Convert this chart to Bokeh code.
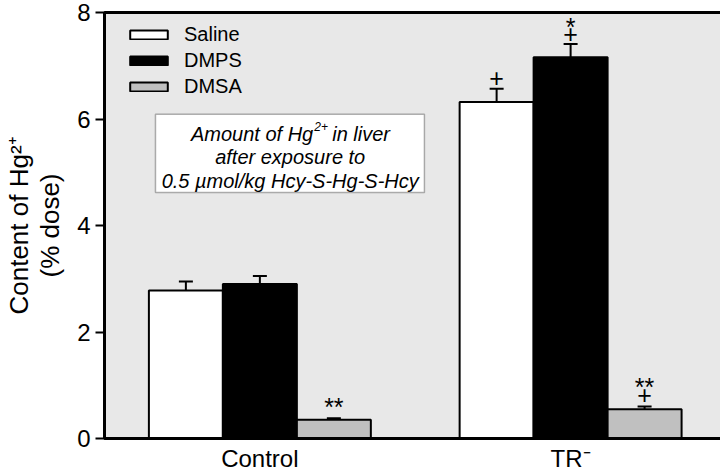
from bokeh.plotting import figure
from bokeh.models import (ColumnDataSource, Whisker, TeeHead, Legend, LegendItem,
                          BoxAnnotation, Label, FixedTicker)
from bokeh.core.properties import value
from bokeh.embed import file_html
from bokeh.resources import INLINE

# ---- data ----
groups = ["Control", "TR\u207b"]
series = ["Saline", "DMPS", "DMSA"]
saline = [2.78, 6.32]
dmps = [2.90, 7.16]
dmsa = [0.35, 0.55]
saline_err = [0.17, 0.25]
dmps_err = [0.15, 0.25]
dmsa_err = [0.03, 0.05]
# significance marks: group index, series index, text, y
mark_group = [1, 1, 1, 0, 1, 1]
mark_series = [0, 1, 1, 2, 2, 2]
mark_text = ["+", "+", "*", "**", "+", "**"]
mark_y = [6.77, 7.60, 7.72, 0.60, 0.81, 0.97]

FONT = "Liberation Sans"
colors = ["#ffffff", "#000000", "#c0c0c0"]
group_centers = [2.1, 6.3]
offsets = [-1.0, 0.0, 1.0]
bar_w = 1.0
FRAME_H = 426

p = figure(frame_width=620, frame_height=FRAME_H, output_backend="svg", toolbar_location=None,
           x_range=(0, 8.38), y_range=(0, 8),
           min_border_left=97, min_border_right=3, min_border_top=12, min_border_bottom=36)
p.background_fill_color = "#e8e8e8"
p.border_fill_color = "white"
p.outline_line_color = "black"
p.outline_line_width = 3
p.xgrid.visible = False
p.ygrid.visible = False

vals = [saline, dmps, dmsa]
errs = [saline_err, dmps_err, dmsa_err]
renderers = []
for si, name in enumerate(series):
    xs = [c + offsets[si] for c in group_centers]
    src = ColumnDataSource(dict(x=xs, top=vals[si],
                                upper=[v + e for v, e in zip(vals[si], errs[si])]))
    r = p.vbar(x="x", top="top", width=bar_w, bottom=0, source=src,
               fill_color=colors[si], line_color="black", line_width=2)
    renderers.append(r)
    w = Whisker(source=src, base="x", lower="top", upper="upper",
                line_color="black", line_width=2,
                upper_head=TeeHead(size=14, line_color="black", line_width=2),
                lower_head=None)
    p.add_layout(w)

# significance marks
mx = [group_centers[g] + offsets[s] for g, s in zip(mark_group, mark_series)]
msrc = ColumnDataSource(dict(x=mx, y=mark_y, text=mark_text))
p.text(x="x", y="y", text="text", source=msrc, text_font=value(FONT),
       text_font_size="25px", text_align="center", text_baseline="middle",
       text_color="black")

# axes
p.yaxis.ticker = FixedTicker(ticks=[0, 2, 4, 6, 8])
p.yaxis.minor_tick_line_color = None
p.yaxis.major_tick_out = 9
p.yaxis.major_tick_in = 0
p.yaxis.major_tick_line_width = 2
p.yaxis.axis_line_width = 3
p.yaxis.major_label_text_font = FONT
p.yaxis.major_label_text_font_size = "24px"
p.yaxis.major_label_text_color = "black"
p.yaxis.major_label_standoff = 5
p.yaxis.axis_label = "Content of Hg\u00b2\u207a\n(% dose)"
p.yaxis.axis_label_text_font = FONT
p.yaxis.axis_label_text_font_size = "26px"
p.yaxis.axis_label_text_font_style = "normal"
p.yaxis.axis_label_text_color = "black"
p.yaxis.axis_label_standoff = 9
p.yaxis.axis_label_text_line_height = 1.05

p.xaxis.ticker = FixedTicker(ticks=group_centers)
p.xaxis.major_label_overrides = {group_centers[i]: groups[i] for i in range(2)}
p.xaxis.minor_tick_line_color = None
p.xaxis.major_tick_out = 0
p.xaxis.major_tick_in = 0
p.xaxis.axis_line_width = 3
p.xaxis.major_label_text_font = FONT
p.xaxis.major_label_text_font_size = "24px"
p.xaxis.major_label_text_color = "black"
p.xaxis.major_label_standoff = 6

# legend
legend = Legend(items=[LegendItem(label=series[i], renderers=[renderers[i]]) for i in range(3)],
                location=(21, FRAME_H - 14 - 72), margin=0, padding=0,
                glyph_width=47, glyph_height=11, label_height=11, spacing=3,
                label_standoff=12, label_text_font=FONT, label_text_font_size="20px",
                label_text_color="black",
                background_fill_alpha=0, border_line_alpha=0)
p.add_layout(legend, "center")

# inset text box
box = BoxAnnotation(left=0.689, right=4.324, top=6.09, bottom=4.62,
                    fill_color="white", fill_alpha=1, line_color="black", line_width=1.5)
p.add_layout(box)
cx = 2.51
it = dict(text_font=FONT, text_font_size="20px", text_font_style="italic",
          text_baseline="middle", text_color="black")
p.add_layout(Label(x=cx, y=5.72, x_offset=23, text="Amount of Hg", text_align="right", **it))
p.add_layout(Label(x=cx, y=5.72, x_offset=24, y_offset=7, text="2+", text_align="left",
                   text_font=FONT, text_font_size="12px", text_font_style="italic",
                   text_baseline="middle", text_color="black"))
p.add_layout(Label(x=cx, y=5.72, x_offset=42, text="in liver", text_align="left", **it))
p.add_layout(Label(x=cx, y=5.28, text="after exposure to", text_align="center", **it))
p.add_layout(Label(x=cx, y=4.83, text="0.5 \u00b5mol/kg Hcy-S-Hg-S-Hcy", text_align="center", **it))

open("out.html", "w").write(file_html(p, INLINE))
